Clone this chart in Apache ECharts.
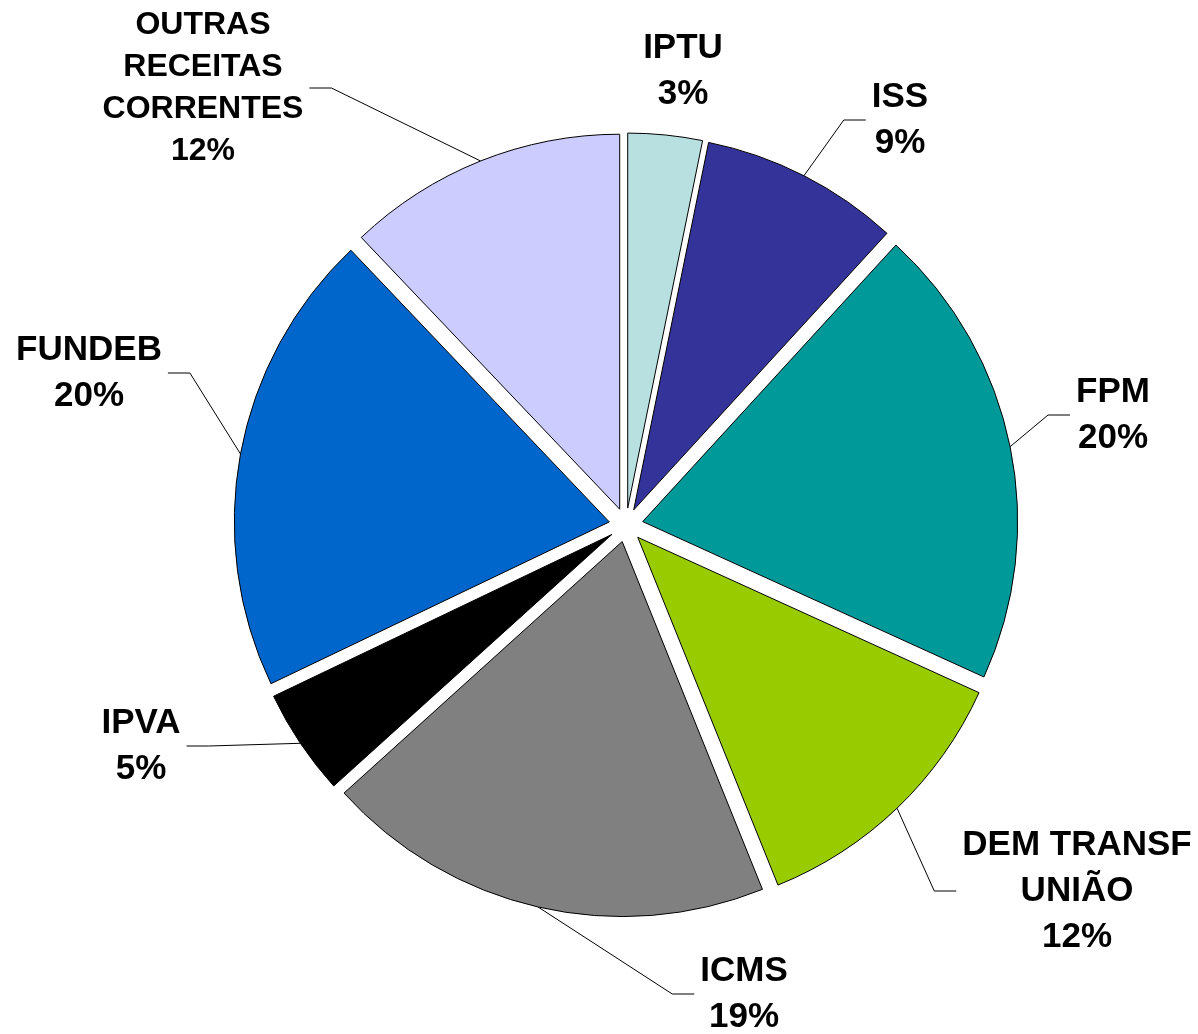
<!DOCTYPE html>
<html>
<head>
<meta charset="utf-8">
<script src="https://cdn.jsdelivr.net/npm/echarts@6/dist/echarts.min.js"></script>
<style>
html, body { margin: 0; padding: 0; background: #fff; }
#chart { width: 1198px; height: 1034px; }
</style>
</head>
<body>
<div id="chart"></div>
<script>
const names = ["IPTU", "ISS", "FPM", "DEM TRANSF\nUNIÃO", "ICMS", "IPVA", "FUNDEB", "OUTRAS\nRECEITAS\nCORRENTES"];
const values = [3.2, 8.6, 20.0, 12.1, 19.4, 4.6, 20.0, 12.1];
const colors = ["#B8E0E0", "#333399", "#009999", "#99CC00", "#808080", "#000000", "#0066CC", "#CCCCFF"];

// layout (px)
const CX = 626, CY = 525, R = 375, EXPLODE = 17;
const labelPos = [[683, 71], [900, 120], [1113, 415], [1077, 891], [744, 994], [141, 746], [89, 373], [203, 88]];

const total = values.reduce((a, b) => a + b, 0);
const midAngles = [];
let acc = 0;
values.forEach(v => {
    midAngles.push(((acc + v / 2) / total) * 2 * Math.PI);
    acc += v;
});

// one pie per slice so each slice can be pushed out from the centre
const series = names.map((_, i) => {
    const a = midAngles[i];
    const cx = CX + EXPLODE * Math.sin(a);
    const cy = CY - EXPLODE * Math.cos(a);
    return {
        type: "pie",
        silent: true,
        animation: false,
        center: [cx, cy],
        radius: R,
        startAngle: 90,
        clockwise: true,
        percentPrecision: 0,
        avoidLabelOverlap: false,
        data: names.map((n, j) => ({
            name: n,
            value: values[j],
            itemStyle: j === i
                ? { color: colors[j], borderColor: "#000", borderWidth: 1 }
                : { color: "rgba(0,0,0,0)", borderWidth: 0 },
            label: j === 7 ? { show: j === i, fontSize: 32, lineHeight: 42 } : { show: j === i },
            labelLine: { show: j === i && j !== 0 },
        })),
        label: {
            position: "outside",
            formatter: "{b}\n{d}%",
            fontFamily: "'Liberation Sans', Arial, sans-serif",
            fontWeight: "bold",
            fontSize: 35,
            lineHeight: 46,
            color: "#000",
        },
        labelLine: {
            lineStyle: { color: "#000", width: 1 },
        },
        labelLayout(p) {
            const j = p.dataIndex;
            const [lx, ly] = labelPos[j];
            const ex = cx + R * Math.sin(midAngles[j]);
            const ey = cy - R * Math.cos(midAngles[j]);
            const side = ex > lx ? 1 : -1;
            const tx = lx + side * (p.labelRect.width / 2 + 6);
            return {
                x: lx,
                y: ly,
                align: "center",
                verticalAlign: "middle",
                labelLinePoints: [[ex, ey], [tx + side * 22, ly], [tx, ly]],
            };
        },
    };
});

const chart = echarts.init(document.getElementById("chart"), null, { renderer: "canvas" });
chart.setOption({
    backgroundColor: "#fff",
    series,
});
</script>
</body>
</html>
